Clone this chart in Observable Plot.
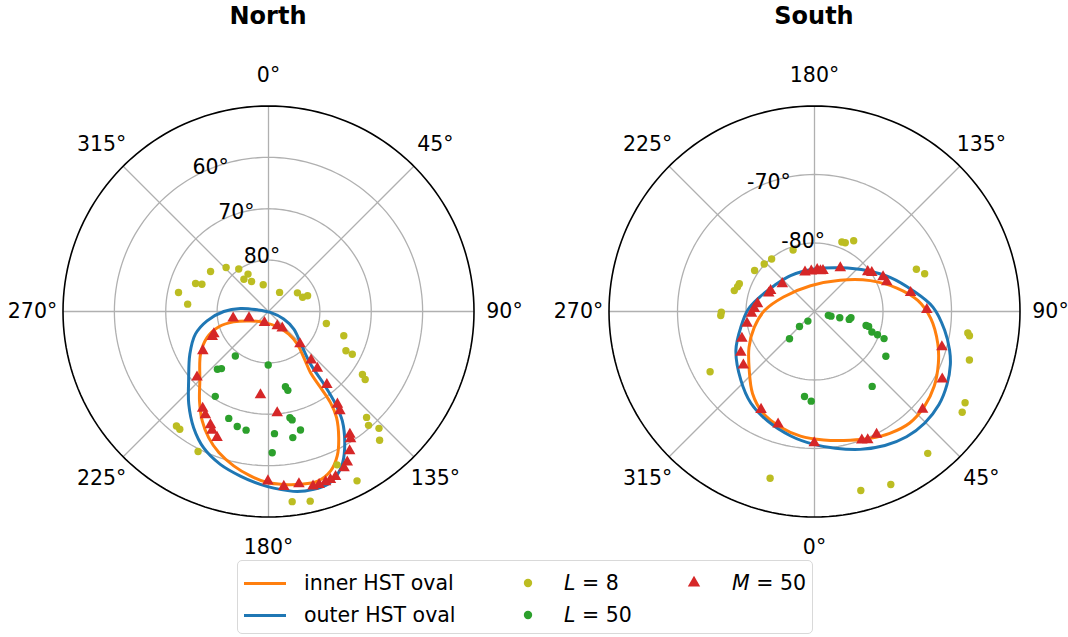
<!DOCTYPE html>
<html>
<head>
<meta charset="utf-8">
<script src="https://cdn.jsdelivr.net/npm/d3@7"></script>
<script src="https://cdn.jsdelivr.net/npm/@observablehq/plot@0.6"></script>
<style>
  body { margin: 0; background: #fff; font-family: "DejaVu Sans", sans-serif; }
  #page { position: relative; width: 1068px; height: 637px; overflow: hidden; background: #fff; }
  .title { position: absolute; top: 4px; width: 300px; text-align: center; font-weight: bold;
           font-size: 24px; line-height: 24px; color: #000; }
  .panel { position: absolute; top: 30px; width: 534px; height: 530px; }
  .panel svg { max-width: none; overflow: visible; }
  #legend { position: absolute; left: 237px; top: 560px; width: 574px; height: 72px;
            border: 1.5px solid #d9d9d9; border-radius: 5px; background: rgba(255,255,255,0.8); }
  #legend .txt { position: absolute; font-size: 20.5px; line-height: 24px; white-space: nowrap; color: #000; }
  #legend .ln { position: absolute; width: 42px; height: 3px; }
  #legend svg { position: absolute; overflow: visible; }
</style>
</head>
<body>
<div id="page">
  <div class="title" style="left:118px">North</div>
  <div class="title" style="left:664px">South</div>
  <div class="panel" id="north" style="left:0px"></div>
  <div class="panel" id="south" style="left:534px"></div>
  <div id="legend"></div>
</div>
<script>
// Azimuth ticks (degrees) shared by both hemispheres
const thetaTicks = [0, 45, 90, 135, 180, 225, 270, 315];

// Latitude rings drawn as grid, plus the latitude of the rim
const northRings = [80, 70, 60];
const northEdge = 50;
const southRings = [-80, -70];
const southEdge = -60;

// Series as [azimuth°, latitude°]
const northInner = [[224.7,71.0],[238.0,74.4],[247.0,77.0],[252.9,79.9],[253.5,82.9],[242.7,86.0],[203.1,87.7],
  [150.4,86.6],[138.1,84.1],[138.6,81.5],[142.5,78.7],[145.5,75.6],[145.6,72.1],[145.8,68.5],[147.3,65.5],
  [150.9,61.9],[154.5,58.9],[158.7,56.7],[164.0,55.6],[169.5,55.8],[174.9,56.2],[180.4,56.7],[186.3,57.8],
  [192.7,59.2],[199.4,60.9],[205.3,62.8],[211.2,65.1],[217.6,68.0]];
const northOuter = [[229.0,69.4],[241.6,72.6],[252.8,75.1],[261.4,77.9],[270.0,81.3],[276.1,84.5],[278.6,87.8],
  [117.0,89.6],[116.4,86.7],[124.8,84.0],[134.4,81.3],[141.4,76.9],[142.7,72.2],[144.1,67.7],[146.0,64.3],
  [149.9,60.4],[153.9,57.2],[157.2,55.5],[160.7,54.5],[165.7,54.3],[170.9,54.5],[178.3,55.6],[182.7,56.3],
  [189.7,57.5],[197.5,58.8],[205.4,60.6],[212.8,63.1],[220.7,66.2]];
const northL8 = [[304.6,76.3],[316.1,78.1],[325.0,79.9],[331.3,81.7],[322.7,82.1],[330.5,83.3],[348.8,84.7],
  [291.0,74.8],[292.2,76.0],[281.9,72.1],[275.2,74.2],[30.1,85.7],[57.2,83.3],[67.3,82.8],[68.1,81.8],
  [101.7,78.5],[107.9,74.6],[116.9,73.1],[117.0,71.7],[123.8,68.0],[125.1,67.0],[137.2,61.9],[138.7,60.5],
  [136.6,58.7],[139.2,56.9],[155.9,57.3],[152.4,52.8],[172.9,52.7],[167.6,52.2],[218.8,61.4],[217.0,61.3],
  [206.7,59.5]];
const northL50 = [[216.7,79.2],[221.5,75.0],[219.5,75.6],[180.3,79.6],[167.3,75.0],[166.2,74.2],[212.1,70.5],
  [200.4,67.8],[195.2,66.8],[190.7,66.5],[177.2,66.2],[168.6,68.9],[167.7,68.4],[164.9,66.1],[169.1,65.0],
  [178.5,62.5]];
const northM50 = [[259.4,83.0],[251.5,86.0],[200.0,87.7],[148.7,86.7],[140.5,85.8],[135.9,81.2],[138.8,77.4],
  [139.4,75.4],[141.4,71.8],[143.4,67.5],[144.3,66.2],[146.5,61.3],[147.2,60.5],[149.8,58.6],[152.4,56.9],
  [154.2,56.2],[157.9,55.3],[159.8,55.1],[161.5,55.0],[163.7,54.9],[165.7,54.9],[170.0,55.9],[175.0,55.8],
  [180.2,57.0],[185.5,73.7],[175.1,70.2],[247.6,78.5],[245.8,78.0],[239.1,75.1],[227.4,71.1],[214.2,67.2],
  [211.4,66.4],[207.1,65.2],[205.4,64.4],[202.2,63.5]];

const southInner = [[188.7,-86.2],[140.6,-84.1],[119.0,-80.7],[105.9,-77.5],[96.0,-74.8],[86.6,-73.0],
  [75.4,-71.4],[67.3,-70.4],[58.0,-69.4],[49.2,-68.8],[40.5,-68.6],[31.7,-69.1],[23.6,-69.8],[15.5,-70.5],
  [4.1,-71.2],[353.6,-71.7],[343.7,-72.4],[332.9,-73.4],[322.9,-75.0],[311.9,-77.2],[298.7,-79.1],
  [284.8,-80.9],[268.9,-82.7],[244.9,-85.0]];
const southOuter = [[180.0,-83.8],[149.6,-82.6],[127.4,-80.2],[114.3,-77.9],[101.9,-75.3],[92.1,-72.7],
  [81.8,-70.8],[74.1,-69.5],[68.6,-68.7],[61.0,-67.9],[53.1,-67.3],[44.7,-67.1],[36.3,-67.3],[27.7,-67.9],
  [18.3,-68.8],[8.7,-69.8],[359.7,-70.6],[349.2,-71.5],[336.9,-72.6],[325.3,-73.7],[313.0,-75.3],
  [296.3,-77.2],[281.1,-79.1],[268.3,-80.3],[255.6,-81.7],[237.4,-83.0],[213.7,-83.7]];
const southL8 = [[158.5,-79.1],[155.9,-79.0],[151.0,-78.2],[199.2,-80.5],[219.2,-80.1],[226.6,-79.9],
  [235.6,-79.4],[249.7,-78.3],[252.1,-78.2],[255.4,-77.9],[270.4,-76.4],[272.4,-76.3],[300.0,-72.4],
  [112.5,-73.9],[108.9,-73.0],[82.0,-67.4],[81.1,-67.1],[72.6,-66.3],[58.8,-64.3],[55.7,-63.9],
  [38.6,-63.5],[345.1,-64.8],[14.5,-63.0],[23.8,-62.4]];
const southL50 = [[74.4,-87.9],[74.3,-87.5],[76.0,-86.2],[77.2,-84.8],[80.3,-84.6],[74.9,-82.2],[74.6,-81.8],
  [70.3,-81.1],[69.8,-80.2],[68.7,-79.1],[57.9,-77.7],[325.4,-88.3],[315.0,-86.9],[317.5,-84.6],
  [37.6,-76.2],[353.3,-77.5],[357.9,-76.9]];
const southM50 = [[193.6,-84.1],[184.6,-84.1],[176.3,-83.9],[171.7,-84.0],[168.3,-83.9],[149.4,-82.6],
  [126.7,-80.3],[124.1,-79.9],[116.7,-78.8],[112.3,-78.6],[101.1,-75.7],[90.9,-73.6],[74.5,-70.7],
  [62.1,-68.9],[47.8,-68.7],[26.8,-69.9],[22.5,-69.7],[20.2,-70.0],[359.9,-70.8],[342.1,-72.7],
  [331.4,-73.7],[307.0,-77.0],[299.0,-77.7],[290.3,-78.7],[280.0,-80.0],[271.8,-80.8],[267.2,-81.2],
  [262.3,-81.6],[248.1,-82.8],[244.5,-82.9],[229.3,-83.8]];

const COLORS = {inner: "#ff7f0e", outer: "#1f77b4", l8: "#bcbd22", l50: "#2ca02c", m50: "#d62728"};
const GRID = "#b0b0b0";
const R = 205.5;          // rim radius in pixels
const FONT = 20.5;
const DOT_R = 3.7, TRI_R = 4.3;

// pole = 1: north (azimuth clockwise from top); pole = -1: south (azimuth counter-clockwise from bottom)
function polarPanel({pole, edge, rings, ringLabelAz, inner, outer, l8, l50, m50, cx, cy}) {
  const rmax = 90 - pole * edge;
  const toXY = ([az, lat]) => {
    const c = 90 - pole * lat, a = az * Math.PI / 180;
    return {x: c * Math.sin(a), y: pole * c * Math.cos(a), lat};
  };
  const circle = (lat) => d3.range(0, 361, 2).map(t => toXY([t, lat]));
  const rim = (t) => toXY([t, edge]);
  const labelR = rmax * 236 / R;
  const labelPos = (t) => {
    const a = t * Math.PI / 180;
    return {x: labelR * Math.sin(a), y: pole * labelR * Math.cos(a)};
  };
  return Plot.plot({
    width: 534,
    height: 530,
    x: {domain: [-rmax, rmax], range: [cx - R, cx + R], axis: null},
    y: {domain: [-rmax, rmax], range: [cy + R, cy - R], axis: null},
    style: {fontFamily: "DejaVu Sans", background: "transparent", overflow: "visible"},
    marks: [
      Plot.line(rings.flatMap(circle), {x: "x", y: "y", z: "lat", stroke: GRID, strokeWidth: 1.3}),
      Plot.link(thetaTicks, {x1: 0, y1: 0, x2: t => rim(t).x, y2: t => rim(t).y, stroke: GRID, strokeWidth: 1.3}),
      Plot.line(circle(edge), {x: "x", y: "y", stroke: "black", strokeWidth: 1.6}),
      Plot.line(inner.map(toXY), {x: "x", y: "y", curve: "catmull-rom-closed", stroke: COLORS.inner, strokeWidth: 3}),
      Plot.line(outer.map(toXY), {x: "x", y: "y", curve: "catmull-rom-closed", stroke: COLORS.outer, strokeWidth: 3}),
      Plot.dot(l8.map(toXY), {x: "x", y: "y", r: DOT_R, fill: COLORS.l8}),
      Plot.dot(l50.map(toXY), {x: "x", y: "y", r: DOT_R, fill: COLORS.l50}),
      Plot.dot(m50.map(toXY), {x: "x", y: "y", r: TRI_R, symbol: "triangle", fill: COLORS.m50}),
      Plot.text(thetaTicks, {x: t => labelPos(t).x, y: t => labelPos(t).y, text: t => `${t}°`,
        fontSize: FONT, fill: "black"}),
      Plot.text(rings, {x: d => toXY([ringLabelAz, d]).x, y: d => toXY([ringLabelAz, d]).y,
        text: d => `${d}°`, textAnchor: "start", lineAnchor: "bottom", dx: 1, dy: -4,
        fontSize: FONT, fill: "black"})
    ]
  });
}

document.getElementById("north").append(polarPanel({
  pole: 1, edge: northEdge, rings: northRings, ringLabelAz: 330,
  inner: northInner, outer: northOuter, l8: northL8, l50: northL50, m50: northM50,
  cx: 268, cy: 281
}));
document.getElementById("south").append(polarPanel({
  pole: -1, edge: southEdge, rings: southRings, ringLabelAz: 210,
  inner: southInner, outer: southOuter, l8: southL8, l50: southL50, m50: southM50,
  cx: 280, cy: 281
}));

// Legend: three columns of swatches and labels
const legend = document.getElementById("legend");
const rowY = [22, 54];
const items = [
  {kind: "line", color: COLORS.inner, x: 6, row: 0, label: "inner HST oval", lx: 66},
  {kind: "line", color: COLORS.outer, x: 6, row: 1, label: "outer HST oval", lx: 66},
  {kind: "dot", color: COLORS.l8, x: 290, row: 0, label: "<i>L</i> = 8", lx: 326},
  {kind: "dot", color: COLORS.l50, x: 290, row: 1, label: "<i>L</i> = 50", lx: 326},
  {kind: "tri", color: COLORS.m50, x: 456, row: 0, label: "<i>M</i> = 50", lx: 494}
];
for (const it of items) {
  const y = rowY[it.row];
  if (it.kind === "line") {
    const d = document.createElement("div");
    d.className = "ln";
    d.style.left = it.x + "px";
    d.style.top = (y - 1.5) + "px";
    d.style.background = it.color;
    legend.append(d);
  } else {
    const s = d3.create("svg").attr("width", 12).attr("height", 12)
      .style("left", (it.x - 6) + "px").style("top", (y - 6) + "px");
    const sym = it.kind === "dot" ? d3.symbolCircle : d3.symbolTriangle;
    const size = it.kind === "dot" ? Math.PI * (DOT_R + 0.5) ** 2 : Math.PI * (TRI_R + 0.3) ** 2;
    s.append("path").attr("transform", "translate(6,6)").attr("d", d3.symbol(sym, size)()).attr("fill", it.color);
    legend.append(s.node());
  }
  const t = document.createElement("div");
  t.className = "txt";
  t.style.left = it.lx + "px";
  t.style.top = (y - 12) + "px";
  t.innerHTML = it.label;
  legend.append(t);
}
</script>
</body>
</html>
